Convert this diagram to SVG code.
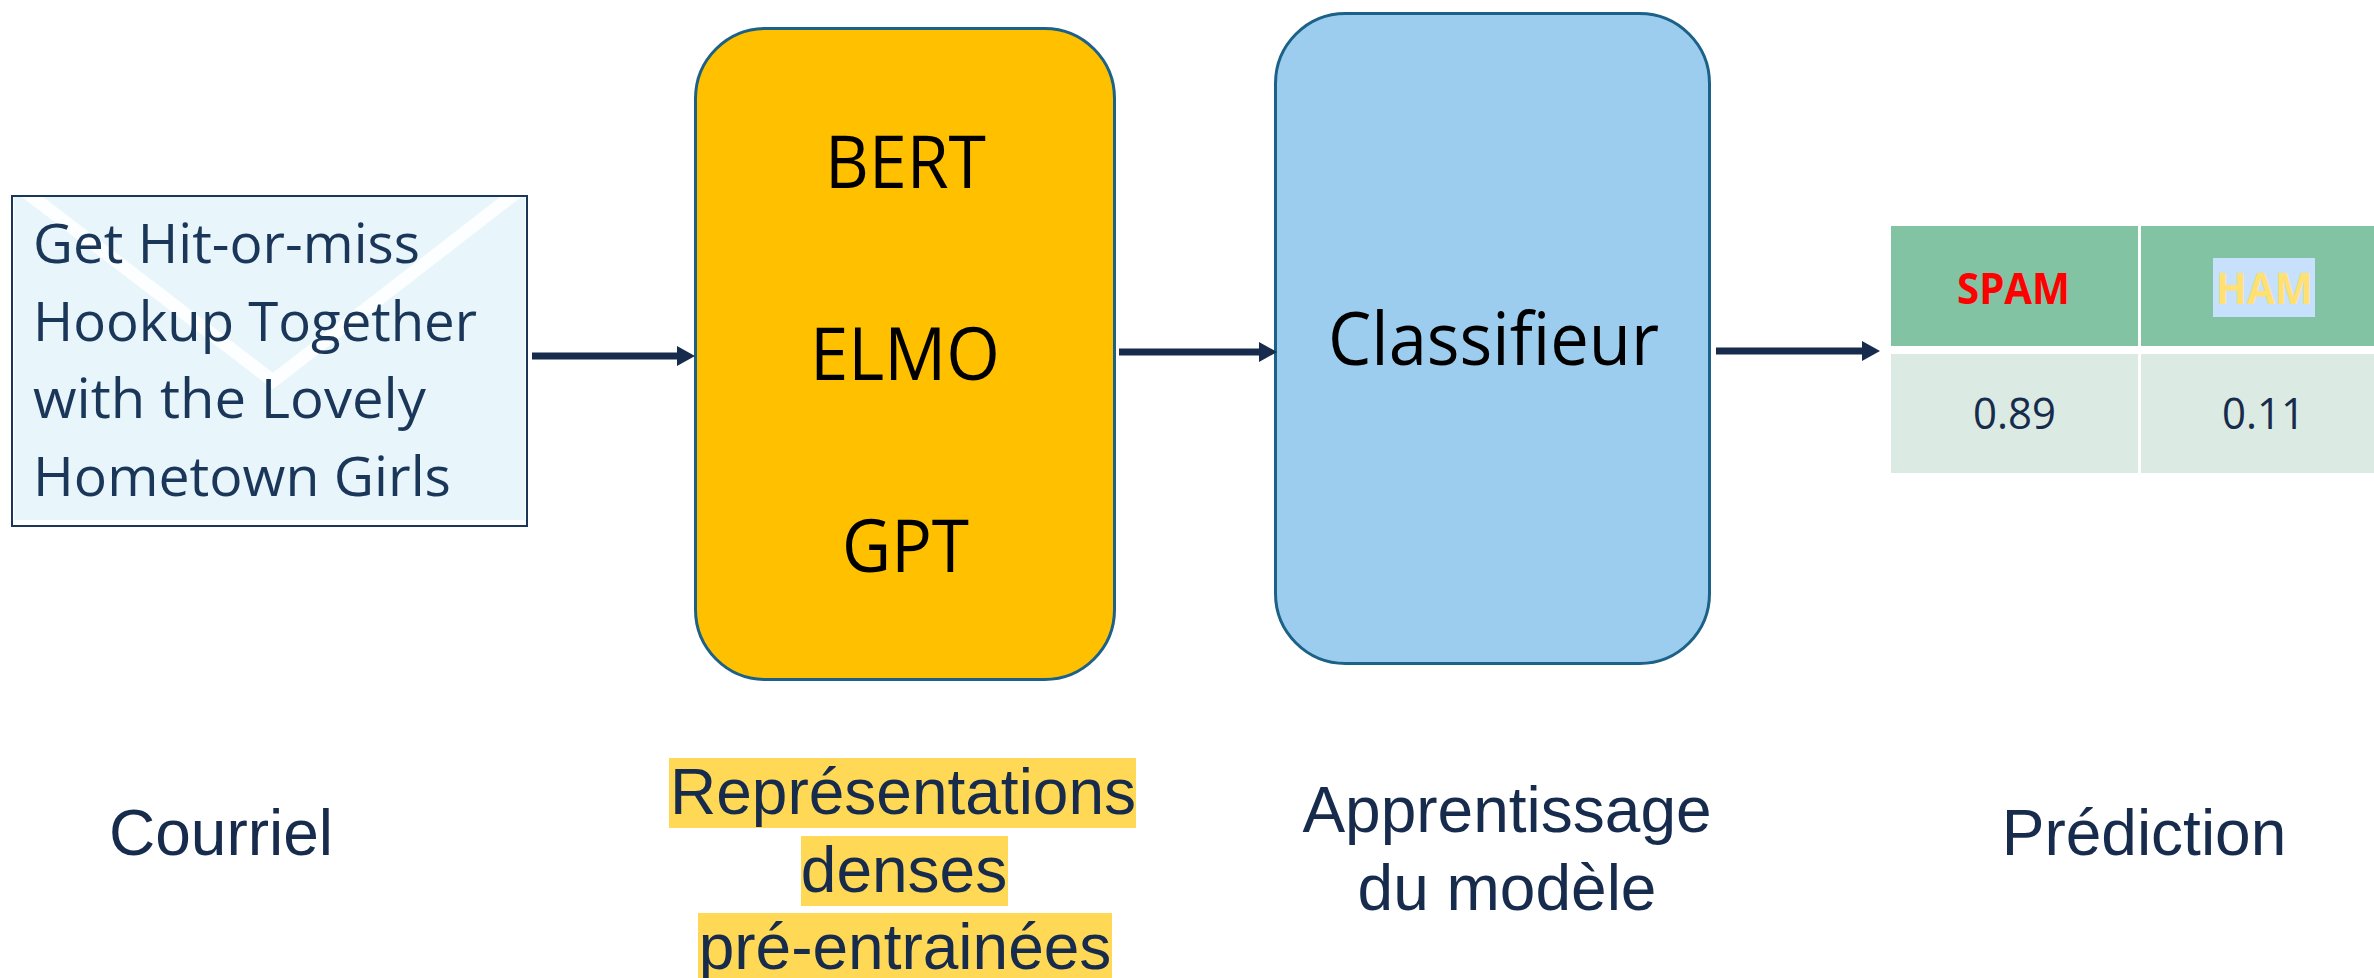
<svg xmlns="http://www.w3.org/2000/svg" width="2374" height="978" viewBox="0 0 2374 978">
<style>
.c{font-family:"Open Sans","Noto Sans",sans-serif}
.a{font-family:"Liberation Sans",Arial,sans-serif;font-size:64px;fill:#172b4d;text-anchor:middle}
.m{font-size:55px;fill:#1a3659}
.k{font-size:74px;fill:#000}
.h{font-size:43px;font-weight:700}
.v{font-size:43px;fill:#172b4d}
.box{stroke:#1c6187;stroke-width:3}
.hi{fill:#ffd955}
.arrow{fill:none;stroke:#172b4d;stroke-width:7;marker-end:url(#ah)}
</style>
<defs>
<marker id="ah" markerUnits="userSpaceOnUse" markerWidth="18" markerHeight="20" refX="1" refY="10" orient="auto"><path d="M0 0L18 10L0 20Z" fill="#172b4d"/></marker>
<clipPath id="env"><rect x="14" y="197" width="511" height="323"/></clipPath>
</defs>
<rect width="2374" height="978" fill="#fff"/>
<g id="courriel">
<rect x="12" y="196" width="515" height="330" fill="#fff" stroke="#1a3659" stroke-width="2"/>
<rect x="14" y="197" width="511" height="323" fill="#e8f5fb"/>
<path d="M26 192L273 381L517 192" clip-path="url(#env)" fill="none" stroke="#fcfeff" stroke-width="13"/>
<text class="c m" x="33" y="263" textLength="387" lengthAdjust="spacingAndGlyphs">Get Hit-or-miss</text>
<text class="c m" x="33" y="341" textLength="444" lengthAdjust="spacingAndGlyphs">Hookup Together</text>
<text class="c m" x="33" y="418" textLength="393" lengthAdjust="spacingAndGlyphs">with the Lovely</text>
<text class="c m" x="33" y="496" textLength="418" lengthAdjust="spacingAndGlyphs">Hometown Girls</text>
</g>
<g id="representations">
<rect class="box" x="695.500" y="28.500" width="419" height="651" rx="70" fill="#ffc000"/>
<text class="c k" x="825" y="188" textLength="161" lengthAdjust="spacingAndGlyphs">BERT</text>
<text class="c k" x="810" y="380" textLength="190" lengthAdjust="spacingAndGlyphs">ELMO</text>
<text class="c k" x="842" y="572" textLength="127" lengthAdjust="spacingAndGlyphs">GPT</text>
</g>
<g id="classifieur">
<rect class="box" x="1275.500" y="13.500" width="434" height="650" rx="70" fill="#9dcdee"/>
<text class="c k" x="1328" y="365" textLength="331" lengthAdjust="spacingAndGlyphs">Classifieur</text>
</g>
<g id="prediction">
<rect x="1891" y="226" width="247" height="120" fill="#82c3a4"/>
<rect x="2141" y="226" width="233" height="120" fill="#82c3a4"/>
<rect x="1891" y="354" width="247" height="119" fill="#dbeae2"/>
<rect x="2141" y="354" width="233" height="119" fill="#dbeae2"/>
<rect x="2213" y="258" width="102" height="59" fill="#c7e0fb"/>
<text class="c h" x="1957" y="304" textLength="113" lengthAdjust="spacingAndGlyphs" fill="#ff0000">SPAM</text>
<text class="c h" x="2216" y="304" textLength="97" lengthAdjust="spacingAndGlyphs" fill="#ffe070">HAM</text>
<text class="c v" x="1973" y="429" textLength="83" lengthAdjust="spacingAndGlyphs">0.89</text>
<text class="c v" x="2222" y="429" textLength="83" lengthAdjust="spacingAndGlyphs">0.11</text>
</g>
<g id="connectors">
<path class="arrow" d="M532 356H678"/>
<path class="arrow" d="M1119 352H1260"/>
<path class="arrow" d="M1716 351H1863"/>
</g>
<g id="label-courriel"><text class="a" x="221" y="855">Courriel</text></g>
<g id="label-representations">
<rect class="hi" x="669" y="758" width="467" height="70"/>
<rect class="hi" x="801" y="836" width="207" height="70"/>
<rect class="hi" x="698" y="913" width="414" height="65"/>
<text class="a" x="903" y="814">Représentations</text>
<text class="a" x="904" y="892">denses</text>
<text class="a" x="905" y="969">pré-entrainées</text>
</g>
<g id="label-apprentissage">
<text class="a" x="1507" y="832">Apprentissage</text>
<text class="a" x="1507" y="910">du modèle</text>
</g>
<g id="label-prediction"><text class="a" x="2144" y="855">Prédiction</text></g>
</svg>
